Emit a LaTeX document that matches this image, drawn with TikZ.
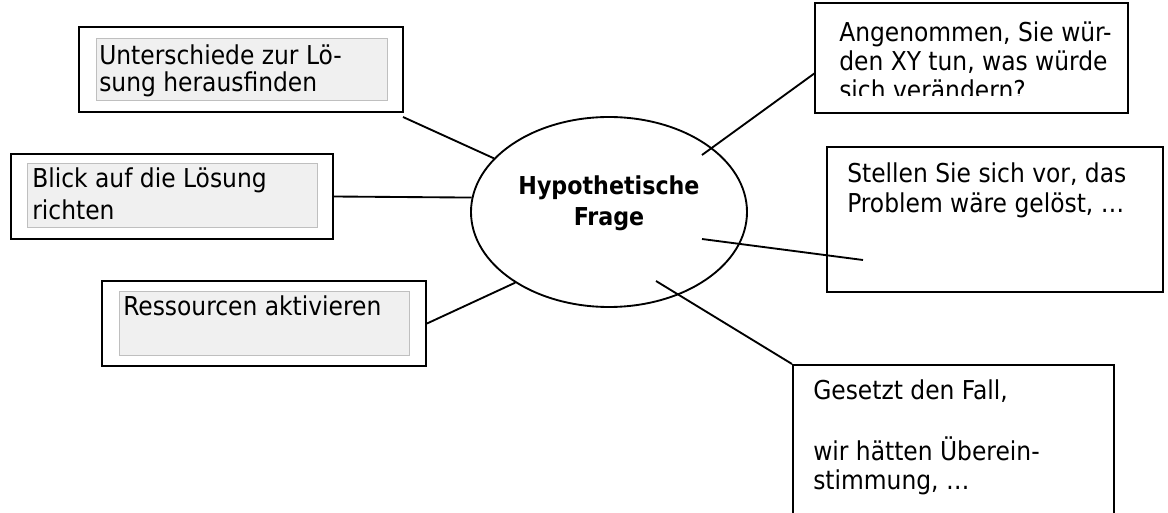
\documentclass[tikz,border=0pt]{standalone}
\usepackage{fontspec}
\setmainfont{DejaVu Sans Condensed}
\usetikzlibrary{shapes.geometric, fit}

\tikzset{
  frame/.style={draw, line width=1.5pt, inner sep=0pt},
  greybox/.style={draw=black!25, fill=black!6, line width=0.6pt, inner sep=0pt},
  label/.style={anchor=base west, inner sep=0pt, align=left, font=\fontsize{19.5}{#1}\selectfont},
  link/.style={line width=1.4pt},
}

\begin{document}
\begin{tikzpicture}[x=0.75pt, y=-0.75pt]
\useasboundingbox (0,0) rectangle (1168,513);

% left side
\node[frame, fit={(79,27) (403,112)}] (ubox) {};
\node[greybox, fit={(96,38) (387,100)}] (ugrey) {};
\node[label={20.25pt}] (utext) at (99,92) {Unterschiede zur Lö-\\sung herausfinden};

\node[frame, fit={(11,154) (333,239)}] (bbox) {};
\node[greybox, fit={(27,163) (317,227)}] (bgrey) {};
\node[label={24pt}] (btext) at (32,220) {Blick auf die Lösung\\richten};

\node[frame, fit={(102,281) (426,366)}] (rbox) {};
\node[greybox, fit={(119,291) (409,355)}] (rgrey) {};
\node[label={22pt}] (rtext) at (123,316) {Ressourcen aktivieren};

% middle
\node[draw, ellipse, line width=1.4pt, inner sep=0pt, minimum width=207pt, minimum height=142.5pt] (q) at (609,212) {};
\node[anchor=base, inner sep=0pt, align=center, font=\fontsize{18.5}{23.25pt}\selectfont\bfseries] (qtext) at (609,226) {Hypothetische\\Frage};

% right side
\node[frame, fit={(815,3) (1128,113)}] (abox) {};
\begin{scope}
  \clip (815,3) rectangle (1128,96);
  \node[label={21.75pt}] (atext) at (839,100) {Angenommen, Sie wür-\\den XY tun, was würde\\sich verändern?};
\end{scope}

\node[frame, fit={(827,147) (1163,292)}] (sbox) {};
\node[label={22.5pt}] (stext) at (847,213) {Stellen Sie sich vor, das\\Problem wäre gelöst, \dots};

\node[frame, fit={(793,365) (1114,540)}] (gbox) {};
\node[label={21.75pt}] (gtext) at (813,489) {Gesetzt den Fall,\\[24pt]wir hätten Überein-\\stimmung, \dots};

% connectors
\coordinate (u1) at (403,117);
\coordinate (a1) at (702,155);
\coordinate (a2) at (815,73);
\coordinate (s1) at (702,239);
\coordinate (s2) at (863,260);
\coordinate (g1) at (656,281);

\draw[link] (u1) -- (q.155);
\draw[link] (bbox.east) -- (q.174);
\draw[link] (rbox.east) -- (q.217);
\draw[link] (a1) -- (a2);
\draw[link] (s1) -- (s2);
\draw[link] (g1) -- (gbox.north west);
\end{tikzpicture}
\end{document}
